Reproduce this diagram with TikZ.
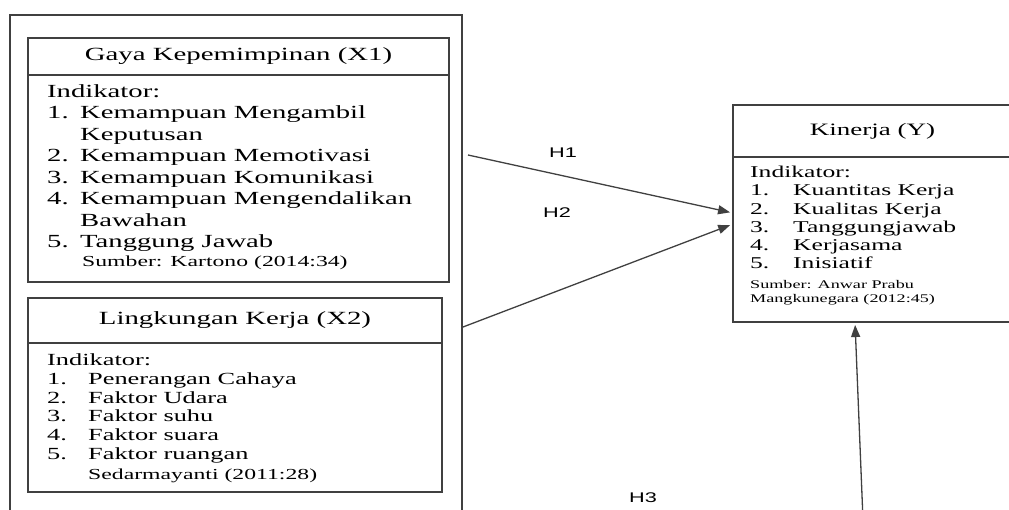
\documentclass[tikz,border=0pt]{standalone}
\usepackage{fontspec}
\setmainfont[FakeStretch=1.55]{Liberation Serif}
\newfontfamily\hfont[FakeStretch=1.55]{Liberation Sans}
\usetikzlibrary{arrows.meta}
\newcommand\kecil{\fontsize{15.3}{17}\selectfont}
\newcommand\kecilk{\fontsize{11.7}{14}\selectfont}

\begin{document}
\begin{tikzpicture}[x=1pt,y=-1pt]
\tikzstyle{kotak}=[rectangle,draw=black!75,line width=1.4pt,inner sep=0pt,outer sep=0pt,anchor=north west]
\tikzstyle{judul}=[kotak,font=\fontsize{18.6}{21}\selectfont]
\tikzstyle{isi}=[inner sep=0pt,anchor=north west,align=left]
\tikzstyle{hlabel}=[font=\hfont\fontsize{14}{16}\selectfont]
\tikzstyle{panah}=[-{Triangle[length=12pt,width=9pt]},draw=black!75,line width=1.3pt,shorten >=3pt]
\useasboundingbox (0,0) rectangle (1009,510);

\node[kotak,minimum width=452pt,minimum height=520pt] (luar) at (10,15) {};

\node[judul,minimum width=421pt,minimum height=37pt] (x1j) at (28,38) {Gaya Kepemimpinan (X1)};
\node[kotak,minimum width=421pt,minimum height=207pt] (x1) at (x1j.south west) {};
\node[isi,font=\fontsize{18.5}{21.5}\selectfont] (x1i) at (47,84) {Indikator:\\
\makebox[33pt][l]{1.}Kemampuan Mengambil\\
\hspace*{33pt}Keputusan\\
\makebox[33pt][l]{2.}Kemampuan Memotivasi\\
\makebox[33pt][l]{3.}Kemampuan Komunikasi\\
\makebox[33pt][l]{4.}Kemampuan Mengendalikan\\
\hspace*{33pt}Bawahan\\
\makebox[33pt][l]{5.}Tanggung Jawab\\[-2.5pt]
\hspace*{35pt}{\kecil Sumber: Kartono (2014:34)}};

\node[judul,minimum width=414pt,minimum height=45pt] (x2j) at (28,298) {Lingkungan Kerja (X2)};
\node[kotak,minimum width=414pt,minimum height=149pt] (x2) at (x2j.south west) {};
\node[isi,font=\fontsize{17}{18.8}\selectfont] (x2i) at (47,353.5) {Indikator:\\
\makebox[41pt][l]{1.}Penerangan Cahaya\\
\makebox[41pt][l]{2.}Faktor Udara\\
\makebox[41pt][l]{3.}Faktor suhu\\
\makebox[41pt][l]{4.}Faktor suara\\
\makebox[41pt][l]{5.}Faktor ruangan\\[1.2pt]
\hspace*{41pt}{\kecil Sedarmayanti (2011:28)}};

\node[judul,font=\fontsize{17.4}{20}\selectfont,minimum width=279pt,minimum height=52pt] (kj) at (733,105) {Kinerja (Y)};
\node[kotak,minimum width=279pt,minimum height=165pt] (k) at (kj.south west) {};
\node[isi,font=\fontsize{16.5}{18.2}\selectfont] (ki) at (750,166) {Indikator:\\
\makebox[43pt][l]{1.}Kuantitas Kerja\\
\makebox[43pt][l]{2.}Kualitas Kerja\\
\makebox[43pt][l]{3.}Tanggungjawab\\
\makebox[43pt][l]{4.}Kerjasama\\
\makebox[43pt][l]{5.}Inisiatif\\[1.8pt]
{\kecilk Sumber: Anwar Prabu}\\[-4.2pt]
{\kecilk Mangkunegara (2012:45)}};

\coordinate (h1a) at (468,155);
\coordinate (h2a) at (463,327);
\coordinate (h3a) at (863,520);
\draw[panah] (h1a) -- ([yshift=26.5pt]k.west);
\draw[panah] (h2a) -- ([yshift=15.5pt]k.west);
\draw[panah] (h3a) -- ([xshift=-17.5pt]k.south);

\node[hlabel] (h1) at (563,153) {H1};
\node[hlabel] (h2) at (557,213) {H2};
\node[hlabel] (h3) at (643,498) {H3};
\end{tikzpicture}
\end{document}
